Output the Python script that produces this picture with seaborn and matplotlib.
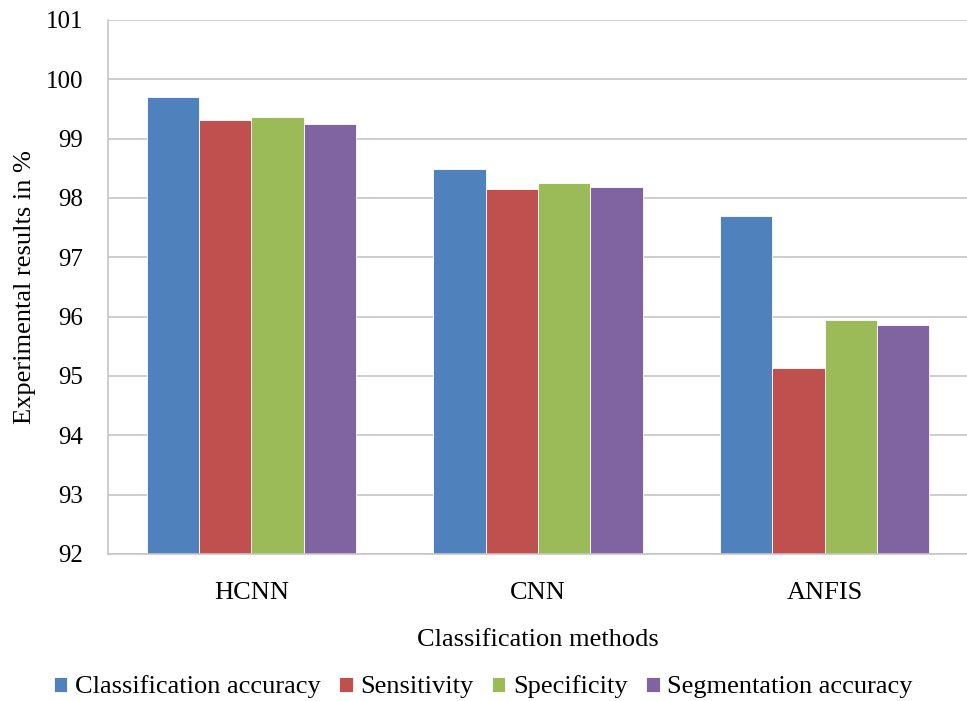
import matplotlib
matplotlib.use("Agg")
import matplotlib.pyplot as plt
import seaborn as sns
import pandas as pd
from matplotlib.ticker import FixedLocator

methods = ["HCNN", "CNN", "ANFIS"]
metrics = ["Classification accuracy", "Sensitivity", "Specificity", "Segmentation accuracy"]
classification_accuracy = [99.70, 98.49, 97.70]
sensitivity = [99.31, 98.16, 95.14]
specificity = [99.37, 98.25, 95.94]
segmentation_accuracy = [99.24, 98.18, 95.86]
colors = ["#4F81BD", "#C0504D", "#9BBB59", "#8064A2"]
y_ticks = list(range(92, 102))

rows = []
for name, vals in zip(metrics, [classification_accuracy, sensitivity, specificity, segmentation_accuracy]):
    for m, v in zip(methods, vals):
        rows.append({"Method": m, "Metric": name, "Value": v})
df = pd.DataFrame(rows)

sns.set_theme(style="white")
plt.rcParams['font.family'] = ['Liberation Serif', 'DejaVu Serif']
plt.rcParams['text.color'] = 'black'
plt.rcParams['axes.labelcolor'] = 'black'
plt.rcParams['xtick.color'] = 'black'
plt.rcParams['ytick.color'] = 'black'

fig = plt.figure(figsize=(9.67, 7.01), dpi=100)
ax = fig.add_axes([108/967, 1-554/701, (968-108)/967, (554-20)/701])

sns.barplot(data=df, x="Method", y="Value", hue="Metric", hue_order=metrics,
            palette=colors, saturation=1, width=0.73, ax=ax, legend=True,
            edgecolor="white", linewidth=0.6, errorbar=None)

ax.set_ylim(92, 101)
ax.set_xlim(-0.5, 2.5)
ax.set_yticks(y_ticks)
ax.set_yticklabels([str(t) for t in y_ticks], fontsize=18)
ax.yaxis.grid(True, color="#C6C6C6", linewidth=1.2)
ax.set_axisbelow(True)
for s in ["top", "right"]:
    ax.spines[s].set_visible(False)
for s in ["left", "bottom"]:
    ax.spines[s].set_color("#C6C6C6")
    ax.spines[s].set_linewidth(1.2)

ax.tick_params(axis="y", which="major", direction="out", length=6, color="#C6C6C6",
               width=1.2, pad=12, labelcolor="black")
ax.tick_params(axis="x", which="major", length=0, labelsize=19, pad=20, labelcolor="black")
ax.xaxis.set_minor_locator(FixedLocator([-0.5, 0.5, 1.5, 2.5]))
ax.tick_params(axis="x", which="minor", direction="out", length=6, color="#C6C6C6", width=1.2)

ax.set_xlabel("Classification methods", fontsize=19, labelpad=18, color="black")
ax.set_ylabel("Experimental results in %", fontsize=19, labelpad=7, color="black")

handles, labels = ax.get_legend_handles_labels()
ax.legend_.remove()
fig.legend(handles, labels, loc="center", bbox_to_anchor=(0.5, 1-687/701), ncol=4,
           frameon=False, fontsize=19, handlelength=0.5, handleheight=0.5,
           handletextpad=0.3, columnspacing=0.7)

fig.savefig("out.png", dpi=100)
